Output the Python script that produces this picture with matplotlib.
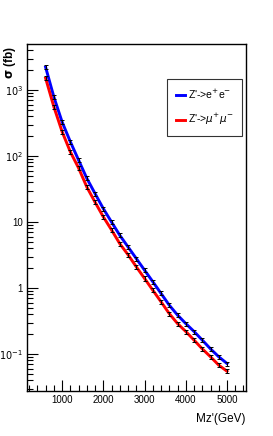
import numpy as np
import matplotlib
matplotlib.use("Agg")
import matplotlib.pyplot as plt
from matplotlib.ticker import FixedLocator, NullFormatter, LogLocator

plt.rcParams['font.family'] = ['Liberation Sans Narrow', 'Liberation Sans', 'DejaVu Sans']
plt.rcParams['mathtext.fontset'] = 'custom'
plt.rcParams['mathtext.rm'] = 'Liberation Sans Narrow'
plt.rcParams['mathtext.it'] = 'Liberation Sans Narrow:italic'
plt.rcParams['mathtext.bf'] = 'Liberation Sans Narrow:bold'

# Z' mass points (GeV)
mass = [600, 800, 1000, 1200, 1400, 1600, 1800, 2000, 2200, 2400, 2600, 2800,
        3000, 3200, 3400, 3600, 3800, 4000, 4200, 4400, 4600, 4800, 5000]
# cross sections (fb)
sig_ee = [2230, 790, 330, 165, 87, 46, 27, 16, 10, 6.3, 4.2, 2.8,
          1.87, 1.25, 0.83, 0.55, 0.39, 0.29, 0.22, 0.163, 0.12, 0.091, 0.072]
sig_mm = [1520, 560, 235, 116, 66, 34, 20, 12, 7.6, 4.7, 3.2, 2.1,
          1.4, 0.93, 0.62, 0.41, 0.29, 0.22, 0.163, 0.12, 0.091, 0.068, 0.055]
rel_err = 0.07

fig = plt.figure(figsize=(2.73, 4.36), dpi=100)
ax = fig.add_axes([0.099, 0.103, 0.802, 0.796])

for sig, col, lab in [(sig_ee, '#0000ff', "Z'->e$^{+}$e$^{-}$"),
                      (sig_mm, '#ff0000', "Z'->$\\mu^{+}\\mu^{-}$")]:
    sig = np.array(sig)
    ax.plot(mass, sig, color=col, lw=2.1, label=lab, zorder=2)
    ax.errorbar(mass, sig, yerr=sig * rel_err, fmt='none', ecolor='black',
                elinewidth=0.7, capsize=1.3, capthick=0.7, zorder=3)

ax.set_yscale('log')
ax.set_xlim(150, 5460)
ax.set_ylim(0.0275, 4980)

ax.xaxis.set_major_locator(FixedLocator([1000, 2000, 3000, 4000, 5000]))
ax.xaxis.set_minor_locator(FixedLocator(np.arange(200, 5460, 200)))
ax.yaxis.set_minor_locator(LogLocator(base=10, subs=np.arange(2, 10), numticks=12))
ax.yaxis.set_minor_formatter(NullFormatter())
ax.set_yticks([0.1, 1, 10, 100, 1000])
ax.set_yticklabels(['$10^{-1}$', '1', '10', '$10^{2}$', '$10^{3}$'])

ax.tick_params(which='both', direction='in', top=False, right=False,
               labelsize=7, width=0.8)
ax.tick_params(which='major', length=8, pad=3)
ax.tick_params(which='minor', length=4)
for s in ax.spines.values():
    s.set_linewidth(1.0)

fig.text(0.035, 0.895, r'$\mathbf{\sigma}$ (fb)', rotation=90, ha='center',
         va='top', fontsize=8.5, fontweight='bold')
fig.text(0.9, 0.025, "Mz'(GeV)", ha='right', va='bottom', fontsize=8.5)

leg = ax.legend(loc='upper right', bbox_to_anchor=(0.983, 0.898),
                fontsize=7.5, frameon=True, fancybox=False, edgecolor='black',
                handlelength=0.9, handletextpad=0.3, borderpad=0.8,
                labelspacing=1.1, borderaxespad=0)
leg.get_frame().set_linewidth(0.8)

fig.savefig('out.png', dpi=100)
